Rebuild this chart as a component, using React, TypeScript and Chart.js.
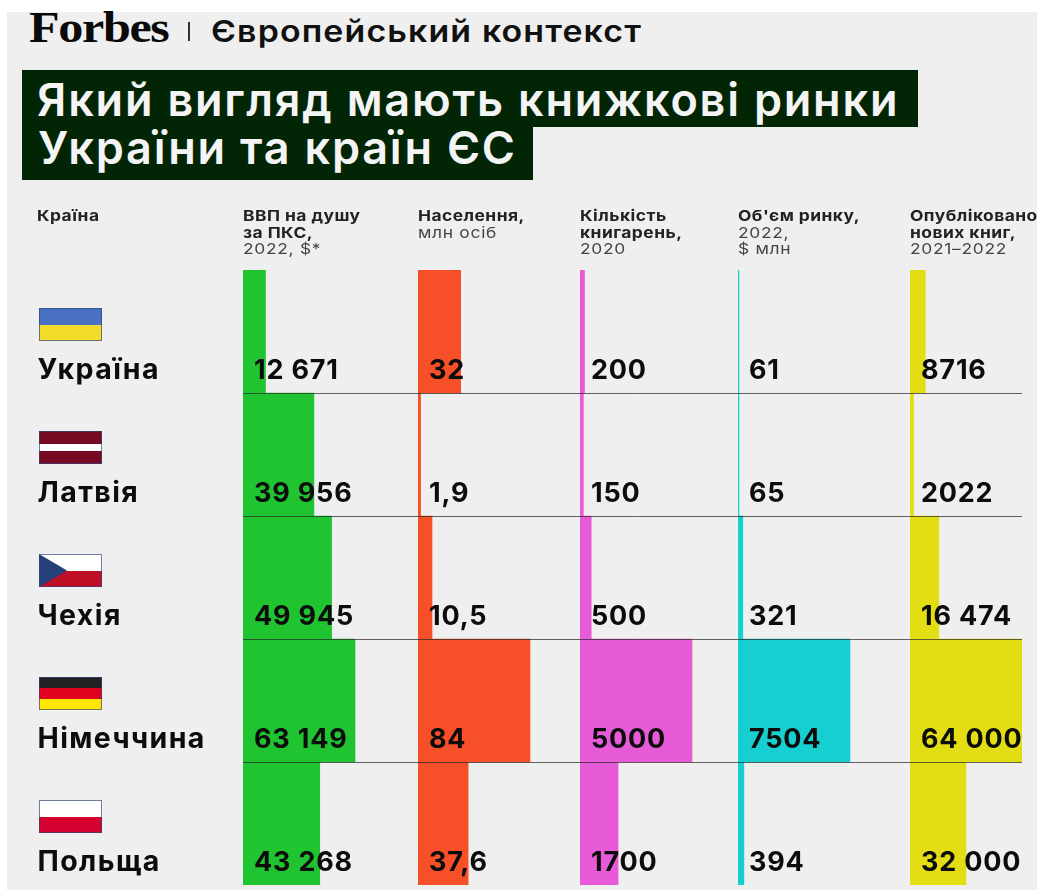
import React, { useEffect, useRef } from "react";
import { Chart, registerables } from "chart.js";

Chart.register(...registerables);

const countries = ["Україна", "Латвія", "Чехія", "Німеччина", "Польща"];
const gdp = [12671, 39956, 49945, 63149, 43268];
const population = [32, 1.9, 10.5, 84, 37.6];
const bookstores = [200, 150, 500, 5000, 1700];
const marketSize = [61, 65, 321, 7504, 394];
const newBooks = [8716, 2022, 16474, 64000, 32000];

const seriesValues = [gdp, population, bookstores, marketSize, newBooks];
const seriesColors = ["#20c430", "#f74f28", "#e85bd8", "#16cfd0", "#e3dd14"];
const seriesNames = ["ВВП на душу за ПКС", "Населення", "Кількість книгарень", "Об'єм ринку", "Опубліковано нових книг"];
const columnWidths = [175, 162, 158, 172, 112];

const flagStripes = [
  ["#4a72c4", "#f3dd2c"],
  ["#760a22", "#760a22", "#ffffff", "#760a22", "#760a22"],
  ["#ffffff", "#bd0f26"],
  ["#222222", "#e2001f", "#ffe600"],
  ["#ffffff", "#d4002e"],
];

const headers = [
  { x: 37, bold: ["Країна"], light: [] as string[] },
  { x: 243, bold: ["ВВП на душу", "за ПКС,"], light: ["2022, $*"] },
  { x: 418, bold: ["Населення,"], light: ["млн осіб"] },
  { x: 580, bold: ["Кількість", "книгарень,"], light: ["2020"] },
  { x: 738, bold: ["Об'єм ринку,"], light: ["2022,", "$ млн"] },
  { x: 910, bold: ["Опубліковано", "нових книг,"], light: ["2021–2022"] },
];

const FONT = "Inter, 'Noto Sans', sans-serif";
const BAR_FULL = 112;

function formatValue(v: number): string {
  const s = String(v).replace(".", ",");
  return v >= 10000 ? s.replace(/\B(?=(\d{3})+$)/g, " ") : s;
}

const overlay = {
  id: "rowOverlay",
  afterDraw(chart: any) {
    const { ctx, scales } = chart;
    const y = scales.y;
    ctx.save();
    ctx.textBaseline = "alphabetic";
    countries.forEach((name, i) => {
      const mid = y.getPixelForValue(i);
      const fx = 39, fw = 63, fh = 33, fy = Math.round(mid - 24);
      const stripes = flagStripes[i];
      stripes.forEach((c, k) => {
        ctx.fillStyle = c;
        const a = Math.round(fy + (k * fh) / stripes.length);
        const b = Math.round(fy + ((k + 1) * fh) / stripes.length);
        ctx.fillRect(fx, a, fw, b - a);
      });
      if (name === "Чехія") {
        ctx.fillStyle = "#234079";
        ctx.beginPath();
        ctx.moveTo(fx, fy);
        ctx.lineTo(fx + 28, fy + fh / 2);
        ctx.lineTo(fx, fy + fh);
        ctx.closePath();
        ctx.fill();
      }
      ctx.strokeStyle = "rgba(50,70,120,0.7)";
      ctx.lineWidth = 1;
      ctx.strokeRect(fx + 0.5, fy + 0.5, fw - 1, fh - 1);

      ctx.fillStyle = "#0c0c0c";
      ctx.textAlign = "left";
      ctx.font = `700 28.5px ${FONT}`;
      ctx.letterSpacing = "1.4px";
      ctx.fillText(name, 37.5, mid + 47.5);
      ctx.font = `700 27px ${FONT}`;
      ctx.letterSpacing = "0.8px";
      seriesValues.forEach((vals, s) => {
        const left = scales["x" + s].left;
        ctx.fillText(formatValue(vals[i]), left + 11, mid + 47.5);
      });
    });
    ctx.restore();
  },
};

export default function App() {
  const ref = useRef<HTMLCanvasElement>(null);
  useEffect(() => {
    const scales: any = {
      y: {
        type: "category",
        labels: countries,
        border: { display: false },
        ticks: { display: false },
        afterFit: (s: any) => {
          s.width = 0;
        },
        grid: {
          display: true,
          offset: true,
          z: 1,
          drawTicks: false,
          lineWidth: 1,
          color: (c: any) => (!c.tick || c.index === 0 ? "rgba(0,0,0,0)" : "rgba(40,40,40,0.72)"),
        },
      },
    };
    seriesValues.forEach((vals, s) => {
      scales["x" + s] = {
        type: "linear",
        position: "bottom",
        stack: "columns",
        stackWeight: columnWidths[s],
        min: 0,
        max: (Math.max(...vals) * columnWidths[s]) / BAR_FULL,
        border: { display: false },
        grid: { display: false },
        ticks: { display: false },
        afterFit: (a: any) => {
          a.height = 0;
        },
      };
    });
    const chart = new Chart(ref.current!, {
      type: "bar",
      data: {
        labels: countries,
        datasets: seriesValues.map((vals, s) => ({
          label: seriesNames[s],
          data: vals,
          xAxisID: "x" + s,
          yAxisID: "y",
          backgroundColor: seriesColors[s],
          borderWidth: 0,
          grouped: false,
          barPercentage: 1,
          categoryPercentage: 1,
        })),
      },
      options: {
        indexAxis: "y",
        animation: false,
        responsive: false,
        layout: { padding: { left: 243, right: 15, top: 270, bottom: 5 } },
        plugins: { legend: { display: false }, tooltip: { enabled: false }, title: { display: false } },
        scales,
      } as any,
      plugins: [overlay],
    });
    return () => chart.destroy();
  }, []);

  const abs = (o: React.CSSProperties): React.CSSProperties => ({ position: "absolute", whiteSpace: "nowrap", ...o });

  return (
    <div style={{ position: "fixed", left: 0, top: 0, width: 1037, height: 890, overflow: "hidden", background: "#fff", fontFamily: FONT }}>
      <div style={abs({ left: 7, top: 12, width: 1030, height: 878, background: "#efefef" })} />
      <div style={abs({ left: 29, top: 4, fontFamily: "'Liberation Serif', serif", fontWeight: 700, fontSize: 44, lineHeight: "48px", letterSpacing: "-1.2px", color: "#0a0a0a", transform: "scaleX(1.14)", transformOrigin: "left" })}>Forbes</div>
      <div style={abs({ left: 188, top: 22, width: 2, height: 19, background: "#333" })} />
      <div style={abs({ left: 211, top: 13, fontWeight: 600, fontSize: 30, letterSpacing: "1px", lineHeight: "36px", color: "#111", transform: "scaleX(1.13)", transformOrigin: "left" })}>Європейський контекст</div>

      <div style={abs({ left: 22, top: 70, width: 896, height: 57, background: "#022605" })} />
      <div style={abs({ left: 22, top: 127, width: 511, height: 53, background: "#022605" })} />
      <div style={abs({ left: 37, top: 72, fontWeight: 600, fontSize: 45, letterSpacing: "1.8px", lineHeight: "56px", color: "#f4f4f4" })}>Який вигляд мають книжкові ринки</div>
      <div style={abs({ left: 38, top: 120, fontWeight: 600, fontSize: 45, letterSpacing: "1.8px", lineHeight: "56px", color: "#f4f4f4" })}>України та країн ЄС</div>

      <canvas ref={ref} width={1037} height={890} style={abs({ left: 0, top: 0, display: "block" })} />

      {headers.map((h) => (
        <div key={h.x} style={abs({ left: h.x, top: 208, fontSize: 15, lineHeight: "16.5px", transform: "scaleX(1.16)", transformOrigin: "left" })}>
          {h.bold.map((t) => (
            <div key={t} style={{ fontWeight: 700, color: "#222", letterSpacing: "0.4px" }}>{t}</div>
          ))}
          {h.light.map((t) => (
            <div key={t} style={{ fontWeight: 400, color: "#444", letterSpacing: "0.6px" }}>{t}</div>
          ))}
        </div>
      ))}
    </div>
  );
}
